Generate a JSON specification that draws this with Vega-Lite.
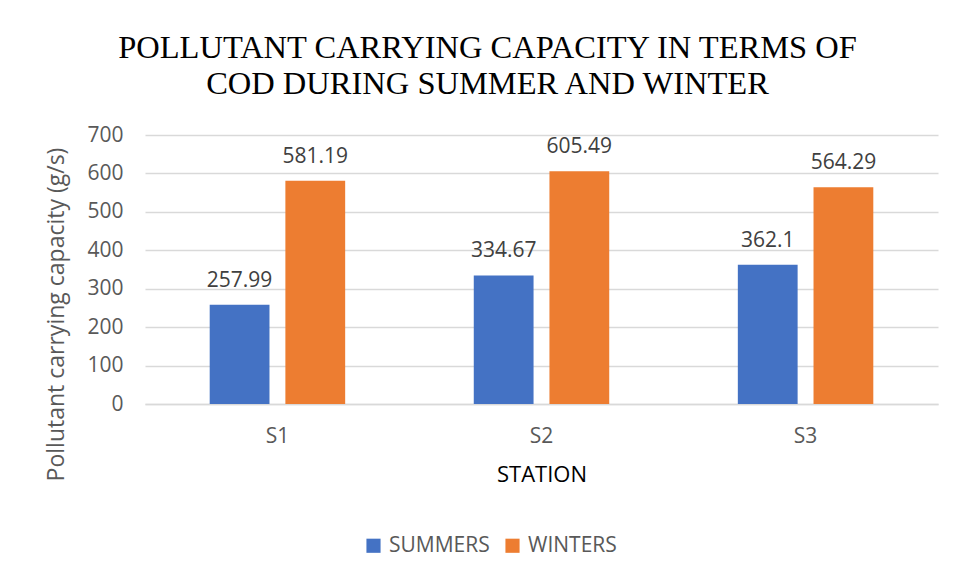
{
  "$schema": "https://vega.github.io/schema/vega-lite/v6.json",
  "width": 793,
  "height": 269,
  "autosize": {"type": "none"},
  "padding": {"left": 145, "top": 135, "right": 20, "bottom": 177},
  "background": "white",
  "config": {"view": {"stroke": null}},
  "title": {
    "text": ["POLLUTANT CARRYING CAPACITY IN TERMS OF", "COD DURING SUMMER AND WINTER"],
    "font": "Liberation Serif",
    "fontSize": 32.5,
    "fontWeight": "normal",
    "color": "#000000",
    "lineHeight": 36,
    "anchor": "middle",
    "dx": -54,
    "offset": 24
  },
  "data": {
    "values": [
      {"station": "S1", "season": "SUMMERS", "value": 257.99},
      {"station": "S1", "season": "WINTERS", "value": 581.19},
      {"station": "S2", "season": "SUMMERS", "value": 334.67},
      {"station": "S2", "season": "WINTERS", "value": 605.49},
      {"station": "S3", "season": "SUMMERS", "value": 362.1},
      {"station": "S3", "season": "WINTERS", "value": 564.29}
    ]
  },
  "encoding": {
    "x": {
      "field": "station",
      "type": "nominal",
      "scale": {"paddingInner": 0.487, "paddingOuter": 0.245},
      "axis": {
        "title": "STATION",
        "titleFont": "Open Sans",
        "titleFontSize": 22,
        "titleFontWeight": "normal",
        "titleColor": "#000000",
        "titlePadding": 18,
        "labelFont": "Open Sans",
        "labelFontSize": 21,
        "labelColor": "#595959",
        "labelAngle": 0,
        "labelPadding": 21,
        "ticks": false,
        "domainColor": "#d9d9d9",
        "domainWidth": 1.5
      }
    },
    "xOffset": {
      "field": "season",
      "type": "nominal",
      "scale": {"paddingInner": 0.21}
    },
    "y": {
      "field": "value",
      "type": "quantitative",
      "scale": {"domain": [0, 700]},
      "axis": {
        "values": [0, 100, 200, 300, 400, 500, 600, 700],
        "title": "Pollutant carrying capacity (g/s)",
        "titleFont": "Open Sans",
        "titleFontSize": 23,
        "titleFontWeight": "normal",
        "titleColor": "#595959",
        "titlePadding": 18,
        "titleY": 179,
        "labelFont": "Open Sans",
        "labelFontSize": 21,
        "labelColor": "#595959",
        "labelPadding": 22,
        "ticks": false,
        "domain": false,
        "gridColor": "#d9d9d9",
        "gridWidth": 1.5
      }
    }
  },
  "layer": [
    {
      "mark": {"type": "bar"},
      "encoding": {
        "color": {
          "field": "season",
          "type": "nominal",
          "scale": {"domain": ["SUMMERS", "WINTERS"], "range": ["#4472C4", "#ED7D31"]},
          "legend": {
            "title": null,
            "orient": "none",
            "direction": "horizontal",
            "legendX": 218,
            "legendY": 400,
            "symbolType": "square",
            "symbolSize": 200,
            "symbolStrokeWidth": 0,
            "labelFont": "Open Sans",
            "labelFontSize": 21,
            "labelColor": "#595959",
            "columnPadding": 12,
            "labelOffset": 5
          }
        }
      }
    },
    {
      "mark": {
        "type": "text",
        "baseline": "bottom",
        "dy": -14,
        "font": "Open Sans",
        "fontSize": 21,
        "color": "#404040"
      },
      "encoding": {
        "text": {"field": "value", "type": "quantitative"}
      }
    }
  ]
}
